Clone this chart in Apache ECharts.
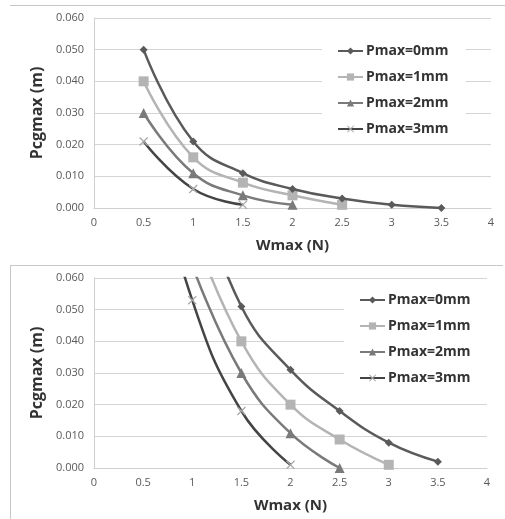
<!DOCTYPE html>
<html>
<head>
<meta charset="utf-8">
<script src="https://cdn.jsdelivr.net/npm/echarts@6/dist/echarts.min.js"></script>
<style>
  body { margin: 0; background: #fff; }
  #wrap { position: relative; width: 505px; height: 519px; overflow: hidden; }
  .frame { position: absolute; background: #c8c8c8; }
  #chart_top { position: absolute; left: 0; top: 0; width: 505px; height: 260px; }
  #chart_bottom { position: absolute; left: 0; top: 260px; width: 505px; height: 259px; }
</style>
</head>
<body>
<div id="wrap">
  <div id="chart_top"></div>
  <div id="chart_bottom"></div>
  <div class="frame" style="left:10px;top:5px;width:495px;height:1px"></div>
  <div class="frame" style="left:10px;top:265px;width:493px;height:1px"></div>
  <div class="frame" style="left:10px;top:265px;width:1px;height:254px"></div>
</div>
<script>
const names = ["Pmax=0mm", "Pmax=1mm", "Pmax=2mm", "Pmax=3mm"];
const xTicks = [0, 0.5, 1, 1.5, 2, 2.5, 3, 3.5, 4];

// top chart
const top_x0 = [0.5, 1, 1.5, 2, 2.5, 3, 3.5];
const top_y0 = [0.050, 0.021, 0.011, 0.006, 0.003, 0.001, 0.000];
const top_x1 = [0.5, 1, 1.5, 2, 2.5];
const top_y1 = [0.040, 0.016, 0.008, 0.004, 0.001];
const top_x2 = [0.5, 1, 1.5, 2];
const top_y2 = [0.030, 0.011, 0.004, 0.001];
const top_x3 = [0.5, 1, 1.5];
const top_y3 = [0.021, 0.006, 0.001];

// bottom chart (first points lie above the 0.060 top and get clipped)
const bot_x0 = [1, 1.5, 2, 2.5, 3, 3.5];
const bot_y0 = [0.093, 0.051, 0.031, 0.018, 0.008, 0.002];
const bot_x1 = [1, 1.5, 2, 2.5, 3];
const bot_y1 = [0.076, 0.040, 0.020, 0.009, 0.001];
const bot_x2 = [1, 1.5, 2, 2.5];
const bot_y2 = [0.064, 0.030, 0.011, 0.000];
const bot_x3 = [0.5, 1, 1.5, 2];
const bot_y3 = [0.110, 0.053, 0.018, 0.001];

const colors = ["#5a5a5a", "#b4b4b4", "#7a7a7a", "#444444"];
const markColors = ["#5a5a5a", "#b4b4b4", "#7a7a7a", "#a8a8a8"];
const symbols = [
  "diamond",
  "rect",
  "triangle",
  "path://M0,1L1,0L5,4L9,0L10,1L6,5L10,9L9,10L5,6L1,10L0,9L4,5Z",
];
const sizes = [8, 10, 10, 9];

const pairs = (xs, ys) => xs.map((x, i) => [x, ys[i]]);

function makeSeries(list) {
  return list.map((d, i) => ({
    name: names[i],
    type: "line",
    smooth: 0.45,
    clip: true,
    data: pairs(d[0], d[1]),
    symbol: symbols[i],
    symbolSize: sizes[i],
    showAllSymbol: true,
    lineStyle: { color: colors[i], width: 2.5 },
    itemStyle: { color: markColors[i] },
    z: 10 - i,
  }));
}

function makeOption(gridWidth, legendLeft, legendTop, series) {
  return {
    animation: false,
    backgroundColor: "transparent",
    grid: { left: 94, top: 18, width: gridWidth, height: 190 },
    legend: {
      orient: "vertical",
      left: legendLeft,
      top: legendTop,
      padding: [6, 17, 6, 15],
      backgroundColor: "#fff",
      itemWidth: 25,
      itemHeight: 9,
      itemGap: 12,
      textStyle: {
        fontFamily: "Open Sans",
        fontWeight: "bold",
        fontSize: 14,
        color: "#333",
        padding: [0, 0, 0, -2],
      },
      data: names,
      z: 20,
    },
    xAxis: {
      type: "value",
      min: 0,
      max: 4,
      interval: 0.5,
      name: "Wmax (N)",
      nameLocation: "middle",
      nameGap: 30,
      nameTextStyle: {
        fontFamily: "Open Sans",
        fontWeight: "bold",
        fontSize: 15,
        color: "#333",
      },
      axisLine: { show: true, lineStyle: { color: "#cfcfcf", width: 1 } },
      axisTick: { show: false },
      splitLine: { show: false },
      axisLabel: {
        margin: 9,
        fontFamily: "Open Sans",
        fontSize: 11,
        color: "#595959",
        formatter: (v) => (xTicks.includes(v) ? String(v) : ""),
      },
    },
    yAxis: {
      type: "value",
      min: 0,
      max: 0.06,
      interval: 0.01,
      name: "Pcgmax (m)",
      nameLocation: "middle",
      nameGap: 38,
      nameTextStyle: {
        fontFamily: "Open Sans",
        fontWeight: "bold",
        fontSize: 16,
        color: "#333",
      },
      axisLine: { show: true, lineStyle: { color: "#cfcfcf", width: 1 } },
      axisTick: { show: false },
      splitLine: { show: true, lineStyle: { color: "#d4d4d4", width: 1 } },
      axisLabel: {
        margin: 10,
        fontFamily: "Open Sans",
        fontSize: 11,
        color: "#595959",
        formatter: (v) => v.toFixed(3),
      },
    },
    series: series,
  };
}

const chartTop = echarts.init(document.getElementById("chart_top"));
chartTop.setOption(
  makeOption(
    397,
    322,
    38,
    makeSeries([
      [top_x0, top_y0],
      [top_x1, top_y1],
      [top_x2, top_y2],
      [top_x3, top_y3],
    ])
  )
);

const chartBottom = echarts.init(document.getElementById("chart_bottom"));
chartBottom.setOption(
  makeOption(
    393,
    344,
    27,
    makeSeries([
      [bot_x0, bot_y0],
      [bot_x1, bot_y1],
      [bot_x2, bot_y2],
      [bot_x3, bot_y3],
    ])
  )
);
</script>
</body>
</html>
